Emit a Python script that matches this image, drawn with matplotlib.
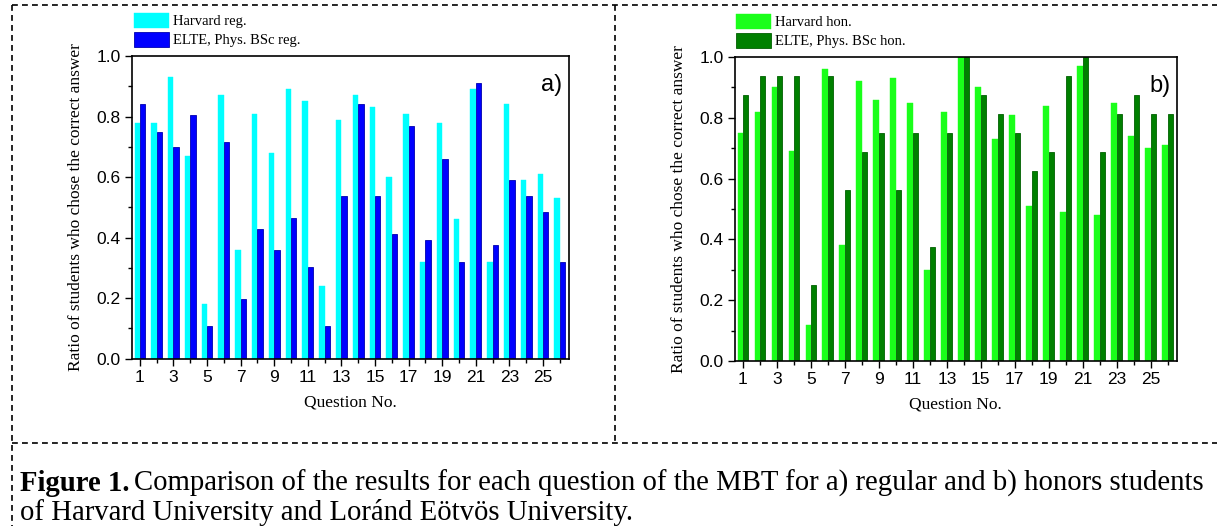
import numpy as np
import matplotlib
matplotlib.use("Agg")
import matplotlib.pyplot as plt
from matplotlib.lines import Line2D
from matplotlib.ticker import MultipleLocator, FormatStrFormatter

# values (ratio of correct answers per question)
questions = list(range(1, 27))
harvard_reg = [0.78, 0.78, 0.93, 0.67, 0.18, 0.87, 0.36, 0.81, 0.68, 0.89, 0.85, 0.24, 0.79,
               0.87, 0.83, 0.60, 0.81, 0.32, 0.78, 0.46, 0.89, 0.32, 0.84, 0.59, 0.61, 0.53]
elte_reg = [0.84, 0.75, 0.70, 0.805, 0.107, 0.715, 0.197, 0.43, 0.358, 0.465, 0.304, 0.107, 0.536,
            0.84, 0.536, 0.411, 0.768, 0.393, 0.661, 0.321, 0.911, 0.375, 0.59, 0.536, 0.483, 0.321]
harvard_hon = [0.75, 0.82, 0.90, 0.69, 0.12, 0.96, 0.38, 0.92, 0.86, 0.93, 0.85, 0.30, 0.82,
               1.0, 0.90, 0.73, 0.81, 0.51, 0.84, 0.49, 0.97, 0.48, 0.85, 0.74, 0.70, 0.71]
elte_hon = [0.875, 0.9375, 0.9375, 0.9375, 0.25, 0.9375, 0.5625, 0.6875, 0.75, 0.5625, 0.75, 0.375, 0.75,
            1.0, 0.875, 0.8125, 0.75, 0.625, 0.6875, 0.9375, 1.0, 0.6875, 0.8125, 0.875, 0.8125, 0.8125]

serif = "Liberation Serif"
sans = "Liberation Sans"

fig = plt.figure(figsize=(12.17, 5.26), dpi=100)
W, H = 1217.0, 526.0

def panel(rect, h_vals, e_vals, h_col, e_col, e_edge, h_lab, e_lab, tag, leg_xy):
    ax = fig.add_axes(rect)
    x = np.array(questions)
    w = 0.32
    ax.bar(x - w / 2, h_vals, w, color=h_col, edgecolor=h_col, linewidth=0.3, label=h_lab)
    ax.bar(x + w / 2, e_vals, w, color=e_col, edgecolor=e_edge, linewidth=0.6, label=e_lab)
    ax.set_xlim(0.5, 26.55)
    ax.set_ylim(0, 1.0)
    ax.set_xticks(range(1, 27, 2))
    ax.xaxis.set_minor_locator(MultipleLocator(1))
    ax.yaxis.set_major_locator(MultipleLocator(0.2))
    ax.yaxis.set_minor_locator(MultipleLocator(0.1))
    ax.yaxis.set_major_formatter(FormatStrFormatter("%.1f"))
    ax.tick_params(which="major", direction="out", length=5, width=1.0, labelsize=12.5, pad=3)
    ax.tick_params(which="minor", direction="out", length=3, width=1.0)
    for lbl in ax.get_xticklabels() + ax.get_yticklabels():
        lbl.set_fontfamily(sans)
    for s in ax.spines.values():
        s.set_linewidth(1.2)
    ax.set_xlabel("Question No.", fontfamily=serif, fontsize=12.5, labelpad=7)
    ax.set_ylabel("Ratio of students who chose the correct answer", fontfamily=serif,
                  fontsize=12.5, labelpad=9)
    ax.text(0.985, 0.94, tag, transform=ax.transAxes, ha="right", va="top",
            fontfamily=sans, fontsize=17)
    ax.legend(loc="upper left", bbox_to_anchor=leg_xy, bbox_transform=fig.transFigure,
              frameon=False, prop={"family": serif, "size": 10.5}, handlelength=2.4,
              handleheight=1.2, handletextpad=0.3, labelspacing=0.25, borderaxespad=0,
              borderpad=0)
    return ax

panel([131.5 / W, 1 - 358.7 / H, (569 - 131.5) / W, (358.7 - 56) / H],
      harvard_reg, elte_reg, "#00ffff", "#0000ff", "#0000b0",
      "Harvard reg.", "ELTE, Phys. BSc reg.", "a)", (134 / W, 1 - 13 / H))
panel([734.5 / W, 1 - 361 / H, (1177 - 734.5) / W, (361 - 57) / H],
      harvard_hon, elte_hon, "#1aff1a", "#008000", "#006000",
      "Harvard hon.", "ELTE, Phys. BSc hon.", "b)", (736 / W, 1 - 14 / H))

# dashed frame of the paper figure
dash = dict(color="black", linewidth=1.2, linestyle=(0, (3.5, 2.5)))
for (x0, y0, x1, y1) in [(12, 5, 1217, 5), (12, 5, 12, 526), (615, 5, 615, 443), (12, 443, 1217, 443)]:
    fig.add_artist(Line2D([x0 / W, x1 / W], [1 - y0 / H, 1 - y1 / H], transform=fig.transFigure, **dash))

# caption
fig.canvas.draw()
r = fig.canvas.get_renderer()
cap_size = 20.7
t1 = fig.text(20 / W, 1 - 491 / H, "Figure 1.", fontfamily=serif, fontweight="bold",
              fontsize=cap_size, va="baseline")
bb = t1.get_window_extent(renderer=r)
fig.text(bb.x1 / W + 5 / W, 1 - 491 / H,
         "Comparison of the results for each question of the MBT for a) regular and b) honors students",
         fontfamily=serif, fontsize=cap_size, va="baseline")
fig.text(20 / W, 1 - 520 / H, "of Harvard University and Loránd Eötvös University.",
         fontfamily=serif, fontsize=cap_size, va="baseline")

fig.savefig("out.png", dpi=100)
